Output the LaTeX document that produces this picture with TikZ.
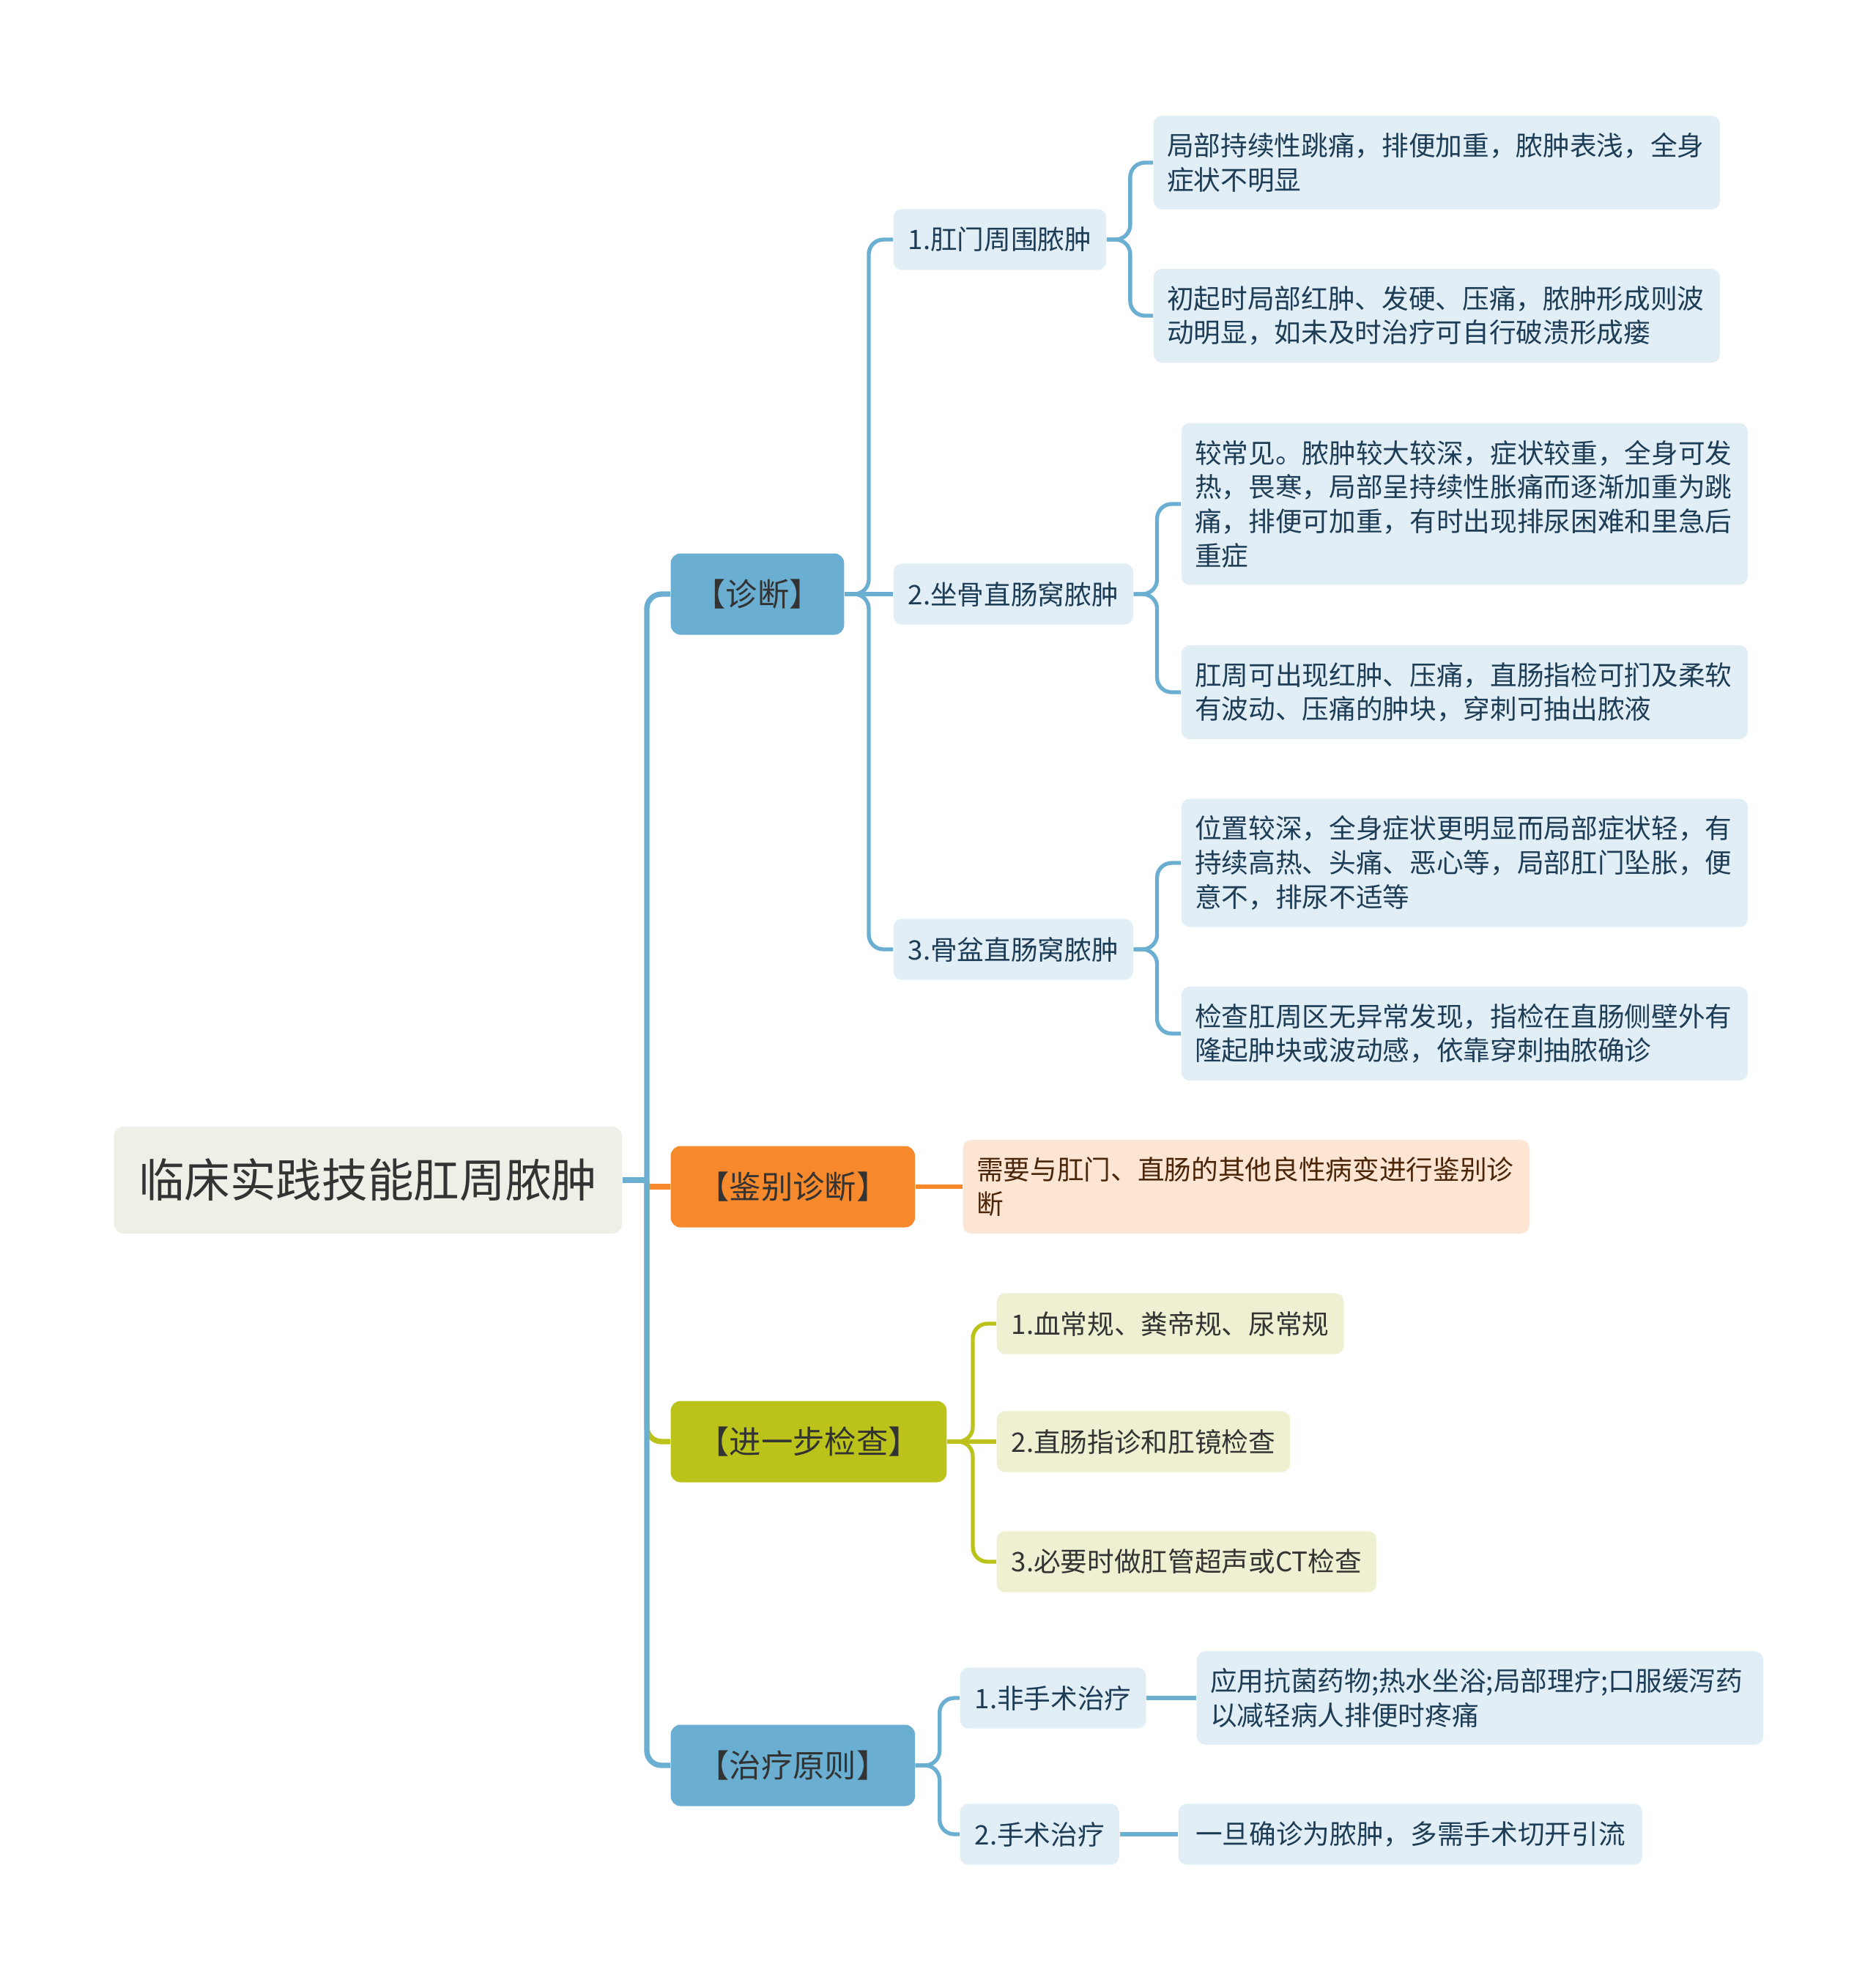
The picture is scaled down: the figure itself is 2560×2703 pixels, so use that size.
\documentclass[tikz,border=0pt]{standalone}
\usepackage{fontspec}
\setmainfont{Noto Sans CJK SC}
\usepackage{tikz}

\definecolor{bluem}{HTML}{6AAFD2}
\definecolor{bluel}{HTML}{E1EEF6}
\definecolor{bluet}{HTML}{1D3C55}
\definecolor{orgm}{HTML}{F5892C}
\definecolor{orgl}{HTML}{FDE5D4}
\definecolor{orgt}{HTML}{4B2508}
\definecolor{ylwm}{HTML}{BBC31A}
\definecolor{ylwl}{HTML}{EFF0D2}
\definecolor{rootbg}{HTML}{EFEFE7}
\definecolor{txtdark}{HTML}{333333}

\begin{document}
\begin{tikzpicture}[x=0.3pt, y=-0.3pt,
  root/.style={rounded corners=4pt, fill=rootbg, text=txtdark, font=\fontsize{18.8}{22}\selectfont, inner xsep=10pt, minimum height=43.8pt, anchor=west},
  main/.style={rounded corners=4pt, text=txtdark, font=\fontsize{13}{16}\selectfont, inner xsep=11pt, minimum height=33.3pt, anchor=west},
  sub/.style={rounded corners=3.5pt, font=\fontsize{11}{14}\selectfont, inner xsep=6pt, minimum height=25pt, align=left, anchor=west},
  para/.style={sub, text width=221pt, inner xsep=5.5pt, inner ysep=7pt},
  bsub/.style={fill=bluel, text=bluet},
  trunk/.style={line width=2.2pt, rounded corners=6pt},
  twig/.style={line width=1.6pt, rounded corners=6pt}
]
\useasboundingbox (0,0) rectangle (2560,2703);

% root and first level
\node[root] (root) at (155,1611) {临床实践技能肛周脓肿};
\coordinate (trunk) at (883,1611);
\node[main, fill=bluem, inner xsep=9.5pt] (zd) at (915,811) {【诊断】};
\node[main, fill=orgm] (jb) at (915,1620) {【鉴别诊断】};
\node[main, fill=ylwm] (jc) at (915,1968) {【进一步检查】};
\node[main, fill=bluem] (zl) at (915,2410) {【治疗原则】};

% diagnosis
\node[sub, bsub] (zd1) at (1219,327) {1.肛门周围脓肿};
\node[sub, bsub] (zd2) at (1219,811) {2.坐骨直肠窝脓肿};
\node[sub, bsub] (zd3) at (1219,1296) {3.骨盆直肠窝脓肿};
\node[para, bsub] (zd1a) at (1574,222) {局部持续性跳痛，排便加重，脓肿表浅，全身\\症状不明显};
\node[para, bsub] (zd1b) at (1574,431) {初起时局部红肿、发硬、压痛，脓肿形成则波\\动明显，如未及时治疗可自行破溃形成瘘};
\node[para, bsub] (zd2a) at (1612,688) {较常见。脓肿较大较深，症状较重，全身可发\\热，畏寒，局部呈持续性胀痛而逐渐加重为跳\\痛，排便可加重，有时出现排尿困难和里急后\\重症};
\node[para, bsub] (zd2b) at (1612,945) {肛周可出现红肿、压痛，直肠指检可扪及柔软\\有波动、压痛的肿块，穿刺可抽出脓液};
\node[para, bsub] (zd3a) at (1612,1178) {位置较深，全身症状更明显而局部症状轻，有\\持续高热、头痛、恶心等，局部肛门坠胀，便\\意不，排尿不适等};
\node[para, bsub] (zd3b) at (1612,1411) {检查肛周区无异常发现，指检在直肠侧壁外有\\隆起肿块或波动感，依靠穿刺抽脓确诊};

% differential diagnosis
\node[para, fill=orgl, text=orgt] (jb1) at (1314,1620) {需要与肛门、直肠的其他良性病变进行鉴别诊\\断};

% further examination
\node[sub, fill=ylwl, text=txtdark] (jc1) at (1360,1807) {1.血常规、粪帝规、尿常规};
\node[sub, fill=ylwl, text=txtdark] (jc2) at (1360,1968) {2.直肠指诊和肛镜检查};
\node[sub, fill=ylwl, text=txtdark] (jc3) at (1360,2132) {3.必要时做肛管超声或CT检查};

% treatment
\node[sub, bsub] (zl1) at (1310,2318) {1.非手术治疗};
\node[sub, bsub] (zl2) at (1310,2504) {2.手术治疗};
\node[para, bsub] (zl1a) at (1633,2318) {应用抗菌药物;热水坐浴;局部理疗;口服缓泻药\\以减轻病人排便时疼痛};
\node[sub, bsub, inner xsep=7pt] (zl2a) at (1608,2504) {一旦确诊为脓肿，多需手术切开引流};

% connectors, coloured ones first so the blue trunk sits on top
\draw[trunk, orgm] (trunk |- jb.west) -- (jb.west);
\draw[trunk, ylwm] (trunk) |- (jc.west);
\draw[trunk, bluem] (root.east) -- (trunk);
\draw[trunk, bluem] (trunk) |- (zd.west);
\draw[trunk, bluem] (trunk) |- (zl.west);

\draw[twig, bluem] (zd.east) -- ++(33,0) |- (zd1.west);
\draw[twig, bluem] (zd.east) -- (zd2.west);
\draw[twig, bluem] (zd.east) -- ++(33,0) |- (zd3.west);
\draw[twig, bluem] (zd1.east) -- ++(32,0) |- (zd1a.west);
\draw[twig, bluem] (zd1.east) -- ++(32,0) |- (zd1b.west);
\draw[twig, bluem] (zd2.east) -- ++(32,0) |- (zd2a.west);
\draw[twig, bluem] (zd2.east) -- ++(32,0) |- (zd2b.west);
\draw[twig, bluem] (zd3.east) -- ++(32,0) |- (zd3a.west);
\draw[twig, bluem] (zd3.east) -- ++(32,0) |- (zd3b.west);

\draw[twig, orgm] (jb.east) -- (jb1.west);

\draw[twig, ylwm] (jc.east) -- ++(35,0) |- (jc1.west);
\draw[twig, ylwm] (jc.east) -- (jc2.west);
\draw[twig, ylwm] (jc.east) -- ++(35,0) |- (jc3.west);

\draw[twig, bluem] (zl.east) -- ++(33,0) |- (zl1.west);
\draw[twig, bluem] (zl.east) -- ++(33,0) |- (zl2.west);
\draw[twig, bluem] (zl1.east) -- (zl1a.west);
\draw[twig, bluem] (zl2.east) -- (zl2a.west);
\end{tikzpicture}
\end{document}
